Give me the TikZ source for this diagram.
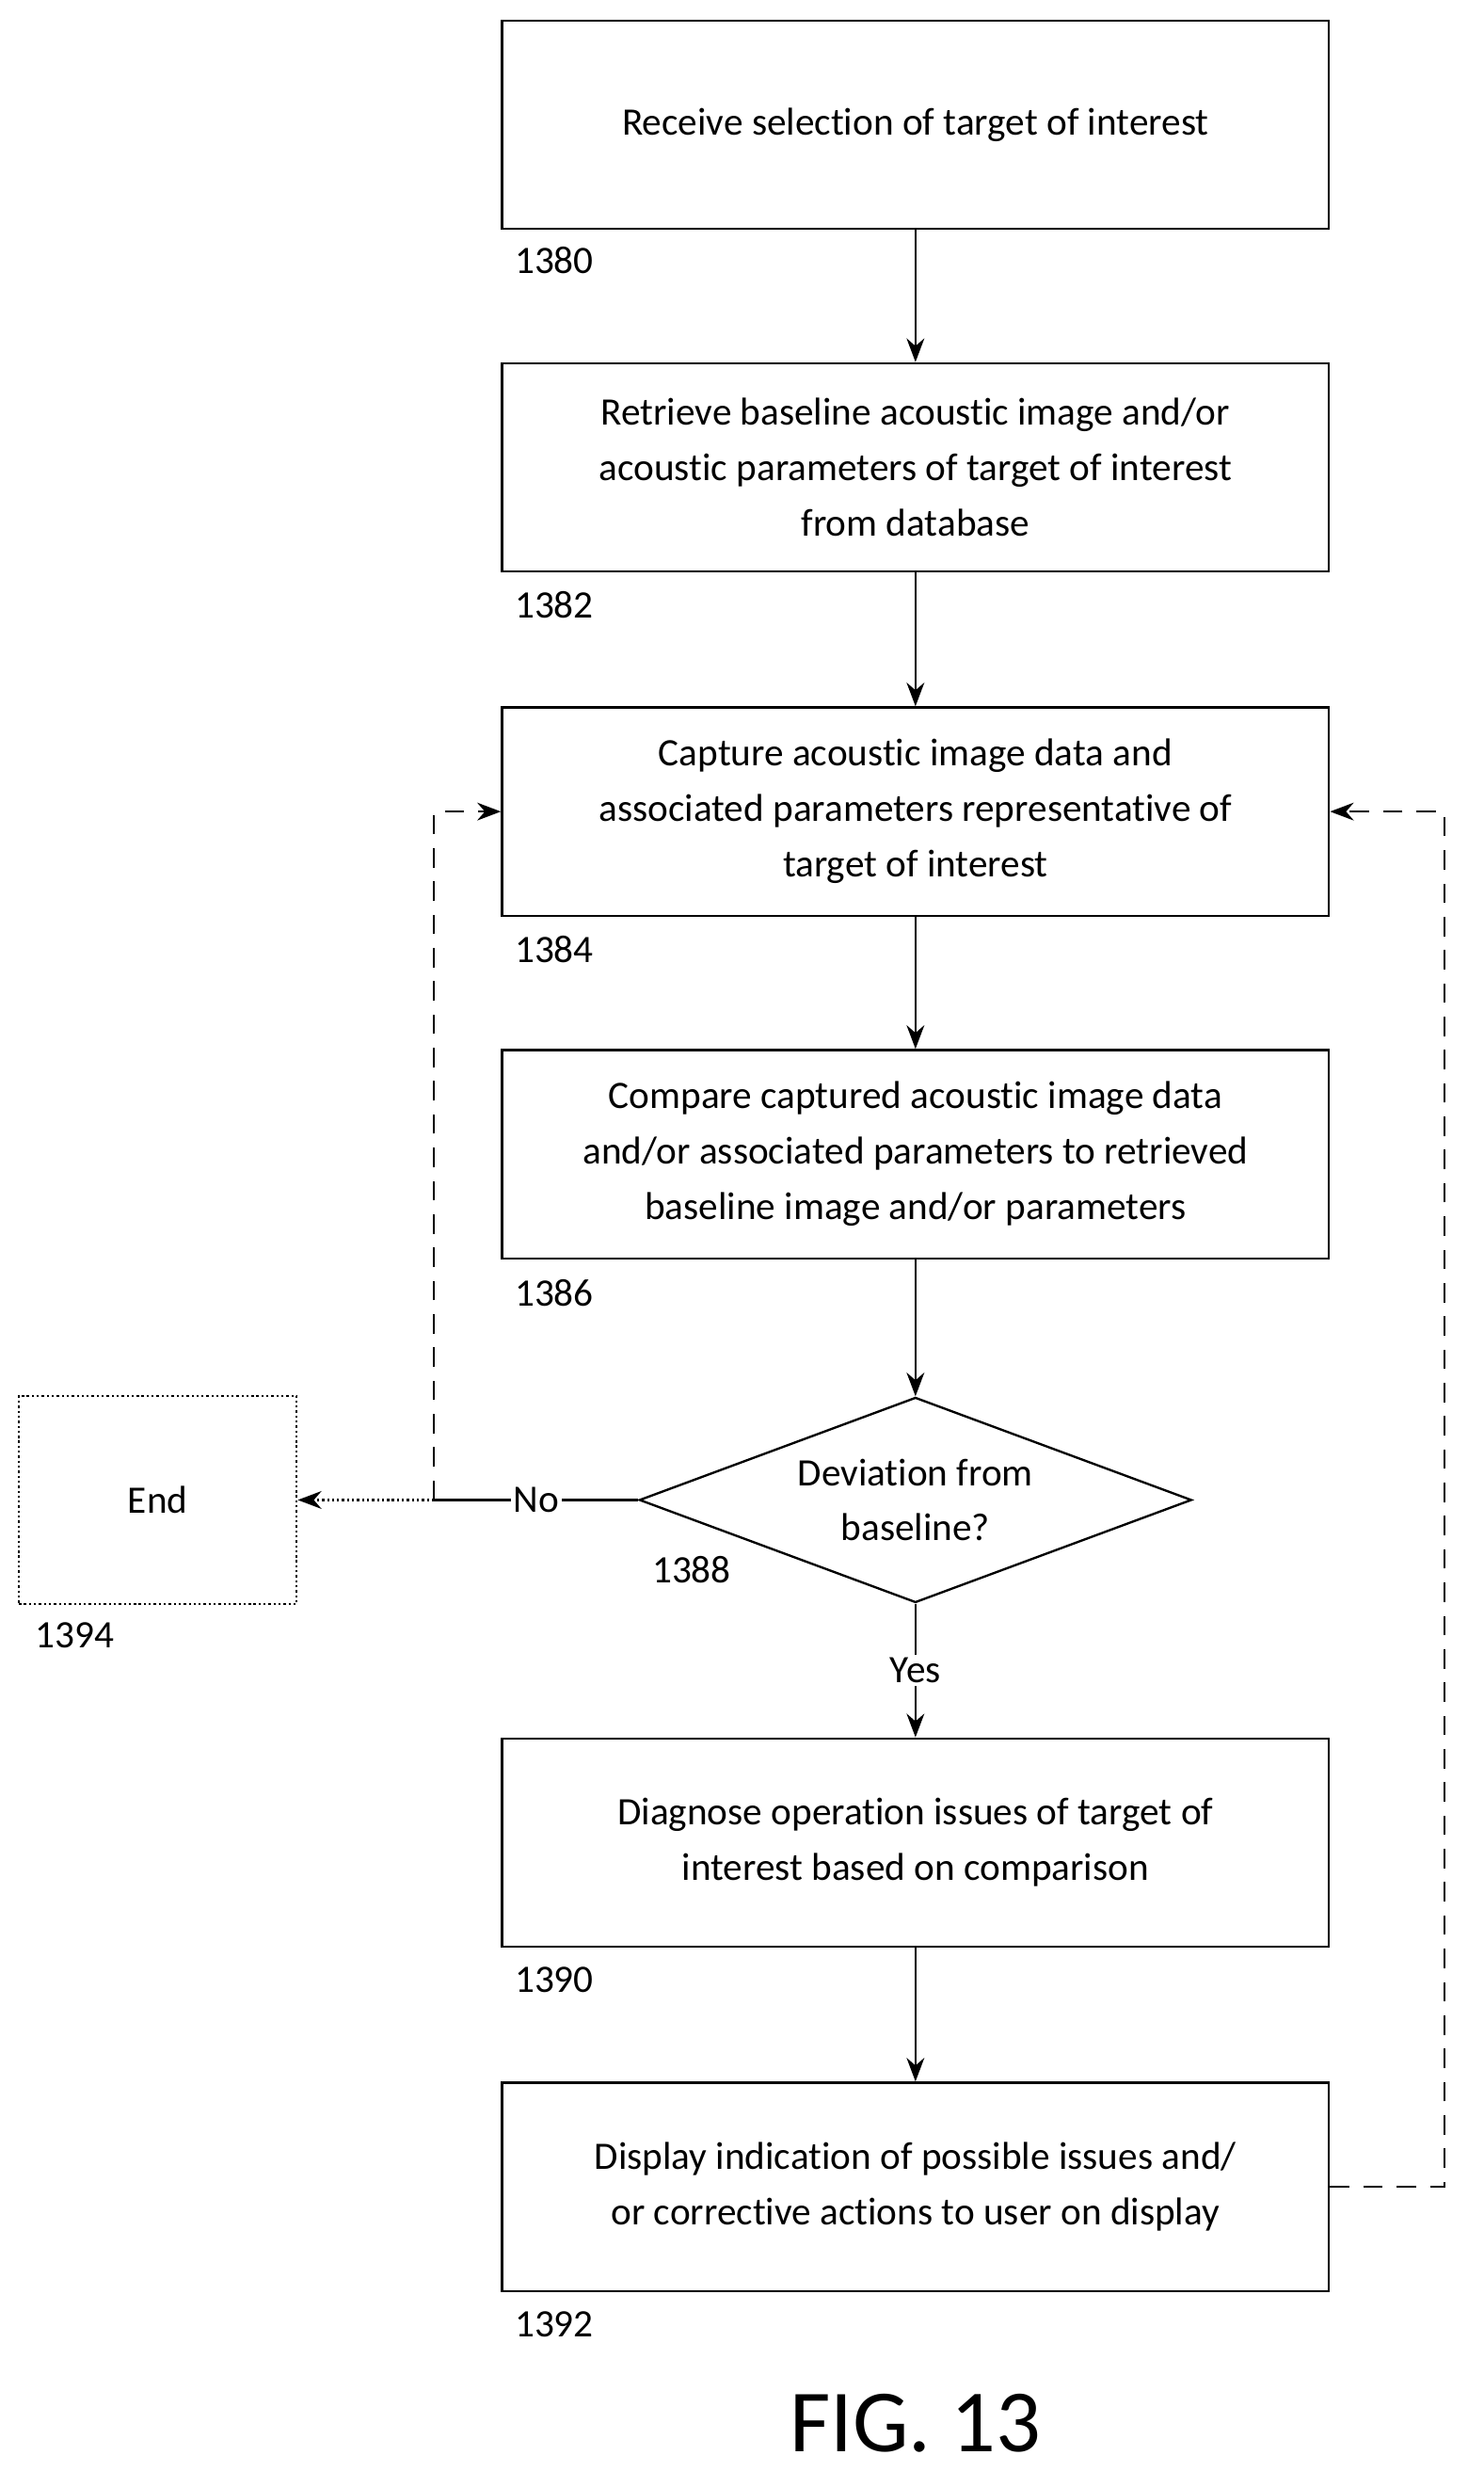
\documentclass[tikz,border=0pt]{standalone}
\usepackage{fontspec}
\setmainfont[Ligatures={NoCommon}]{Carlito}
\usetikzlibrary{shapes.geometric,arrows.meta}
\tikzset{%
  process/.style = {shape=rectangle, draw, thick, align=center,%
                  minimum width=10.48cm, minimum height=2.64cm,%
                  font=\fontsize{14}{20}\selectfont},%
  test/.style  = {shape=diamond, draw, thick, align=center, aspect=2.7,%
                  inner sep=0pt, minimum width=7cm, minimum height=2.6cm,%
                  font=\fontsize{14}{20}\selectfont},%
  stop/.style  = {process, densely dotted, minimum width=3.52cm},%
  refnum/.style= {font=\fontsize{14}{16}\selectfont, anchor=west},%
  flow/.style  = {thick, -{Stealth[length=3mm]}},%
  back/.style  = {flow, dash pattern=on 7pt off 5pt}%
}
\begin{document}
\begin{tikzpicture}[x=0.02cm,y=-0.02cm]
	\useasboundingbox (0,0) rectangle (940,1565);
	% steps
	\node [process] (receive)  at (580,79)   {Receive selection of target of interest};
	\node [process] (retrieve) at (580,296)  {Retrieve baseline acoustic image and/or\\acoustic parameters of target of interest\\from database};
	\node [process] (capture)  at (580,514)  {Capture acoustic image data and\\associated parameters representative of\\target of interest};
	\node [process] (compare)  at (580,731)  {Compare captured acoustic image data\\and/or associated parameters to retrieved\\baseline image and/or parameters};
	\node [test] (deviate)  at (580,950)  {Deviation from\\baseline?};
	\node [process] (diagnose) at (580,1167) {Diagnose operation issues of target of\\interest based on comparison};
	\node [process] (display)  at (580,1385) {Display indication of possible issues and/\\or corrective actions to user on display};
	\node [stop] (finish)   at (100,950)  {End};
	% reference numerals
	\node [refnum] (n1380) at (320,165)  {1380};
	\node [refnum] (n1382) at (320,383)  {1382};
	\node [refnum] (n1384) at (320,601)  {1384};
	\node [refnum] (n1386) at (320,819)  {1386};
	\node [refnum] (n1388) at (407,994)  {1388};
	\node [refnum] (n1390) at (320,1254) {1390};
	\node [refnum] (n1392) at (320,1472) {1392};
	\node [refnum] (n1394) at (16,1036)  {1394};
	\node (fig) at (580,1535) {\fontsize{32}{36}\selectfont FIG. 13};
	% connectors
	\draw [flow] (receive) -- (retrieve);
	\draw [flow] (retrieve) -- (capture);
	\draw [flow] (capture) -- (compare);
	\draw [flow] (compare) -- (deviate);
	\draw [flow] (deviate) -- node [pos=0.5, fill=white, inner sep=1pt, font=\fontsize{14}{16}\selectfont] {Yes} (diagnose);
	\draw [flow] (diagnose) -- (display);
	\coordinate (nofork) at (275,950);
	\draw [thick] (deviate.west) -- node [fill=white, inner sep=1pt, font=\fontsize{14}{16}\selectfont] {No} (nofork);
	\draw [flow, densely dotted] (nofork) -- (finish.east);
	\draw [back] (nofork) |- (capture.west);
	\coordinate (loop) at (915,1385);
	\draw [back] (display.east) -- (loop) |- (capture.east);
\end{tikzpicture}
\end{document}
